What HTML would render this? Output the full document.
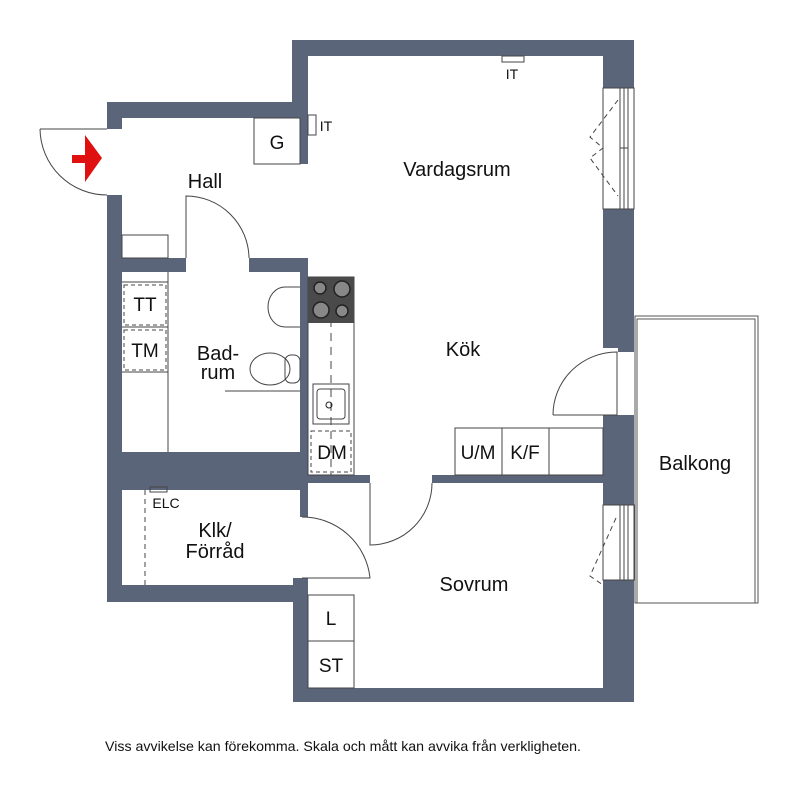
<!DOCTYPE html>
<html><head><meta charset="utf-8"><style>
html,body{margin:0;padding:0;background:#fff;}
svg{display:block;font-family:"Liberation Sans",sans-serif;}
</style></head><body>
<svg width="800" height="795" viewBox="0 0 800 795" xmlns="http://www.w3.org/2000/svg">
<rect width="800" height="795" fill="#fff"/>
<rect x="635" y="316" width="123" height="287" fill="none" stroke="#555" stroke-width="1"/>
<rect x="637" y="319" width="118" height="284" fill="none" stroke="#555" stroke-width="1"/>
<g fill="#5b6579">
<rect x="292" y="40" width="342" height="16"/>
<rect x="292" y="40" width="16" height="78"/>
<rect x="107" y="102" width="201" height="16"/>
<rect x="300" y="102" width="8" height="62"/>
<rect x="107" y="102" width="15" height="27"/>
<rect x="107" y="195" width="15" height="407"/>
<rect x="107" y="258" width="79" height="14"/>
<rect x="249" y="258" width="59" height="14"/>
<rect x="300" y="258" width="8" height="225"/>
<rect x="107" y="452" width="201" height="38"/>
<rect x="300" y="475" width="70" height="8"/>
<rect x="432" y="475" width="171" height="8"/>
<rect x="300" y="483" width="8" height="34"/>
<rect x="293" y="578" width="15" height="124"/>
<rect x="107" y="585" width="201" height="17"/>
<rect x="293" y="688" width="341" height="14"/>
<rect x="603" y="40" width="31" height="48"/>
<rect x="603" y="209" width="31" height="139"/>
<rect x="618" y="348" width="16" height="4"/>
<rect x="618" y="415" width="16" height="4"/>
<rect x="603" y="419" width="31" height="86"/>
<rect x="603" y="580" width="31" height="122"/>
<rect x="603" y="415" width="15" height="10"/>
</g>
<g fill="none" stroke="#444" stroke-width="1">
<rect x="603" y="88" width="31" height="121"/>
<line x1="620" y1="88" x2="620" y2="209"/><line x1="624" y1="88" x2="624" y2="209"/><line x1="628" y1="88" x2="628" y2="209"/>
<line x1="620" y1="148" x2="628" y2="148"/>
<rect x="603" y="505" width="31" height="75"/>
<line x1="620" y1="505" x2="620" y2="580"/><line x1="624" y1="505" x2="624" y2="580"/><line x1="628" y1="505" x2="628" y2="580"/>
<polyline points="618,100 590,137 603,148 590,158 618,196" stroke-dasharray="5,4"/>
<polyline points="616,518 590,576 603,585" stroke-dasharray="5,4"/>
<path d="M40,129 L107,129 M40,129 A67,67 0 0 0 107,195"/>
<path d="M186,258 L186,196 A63,63 0 0 1 249,258"/>
<path d="M370,483 L370,545 A62,62 0 0 0 432,483"/>
<path d="M302,517 A68,68 0 0 1 370,578 L302,578"/>
<path d="M553,415 L617,415 L617,352 A64,63 0 0 0 553,415"/>
<rect x="254" y="118" width="46" height="46"/>
<rect x="308" y="115" width="8" height="20"/>
<rect x="502" y="56" width="22" height="6"/>
<rect x="122" y="235" width="46" height="23"/>
<line x1="168" y1="272" x2="168" y2="452"/>
<line x1="122" y1="282" x2="168" y2="282"/>
<line x1="122" y1="327" x2="168" y2="327"/>
<line x1="122" y1="372" x2="168" y2="372"/>
<rect x="124" y="285" width="42" height="40" stroke-dasharray="4,3"/>
<rect x="124" y="330" width="42" height="40" stroke-dasharray="4,3"/>
<path d="M300,287 L285,287 A17,20 0 0 0 285,327 L300,327"/>
<ellipse cx="270" cy="369" rx="20" ry="16"/>
<rect x="285" y="355" width="15" height="28" rx="6"/>
<line x1="225" y1="391" x2="300" y2="391"/>
<rect x="308" y="277" width="46" height="198"/>
<line x1="331" y1="277" x2="331" y2="475" stroke-dasharray="8,6"/>
<rect x="313" y="384" width="36" height="40"/>
<rect x="317" y="389" width="28" height="30" rx="3"/>
<rect x="311" y="431" width="40" height="41" stroke-dasharray="4,3"/>
<rect x="455" y="428" width="148" height="47"/>
<line x1="502" y1="428" x2="502" y2="475"/><line x1="549" y1="428" x2="549" y2="475"/>
<rect x="150" y="487" width="17" height="5"/>
<line x1="145" y1="490" x2="145" y2="585" stroke-dasharray="5,4"/>
<rect x="308" y="595" width="46" height="93"/>
<line x1="308" y1="641" x2="354" y2="641"/>
</g>
<rect x="308" y="277" width="46" height="46" fill="#4a4a4a"/>
<g fill="#888" stroke="#222" stroke-width="1.5">
<circle cx="320" cy="288" r="6"/><circle cx="342" cy="289" r="8"/>
<circle cx="321" cy="310" r="8"/><circle cx="342" cy="311" r="6"/>
</g>
<circle cx="329" cy="405" r="3" fill="none" stroke="#222"/>
<polygon points="72,155 85,155 85,135 102,158 85,182 85,163 72,163" fill="#e01010"/>
<g fill="#111" font-size="20" text-anchor="middle">
<text x="205" y="188">Hall</text>
<text x="457" y="176">Vardagsrum</text>
<text x="463" y="356">Kök</text>
<text x="218" y="360">Bad-</text>
<text x="218" y="379">rum</text>
<text x="695" y="470">Balkong</text>
<text x="215" y="537">Klk/</text>
<text x="215" y="558">Förråd</text>
<text x="474" y="591">Sovrum</text>
<text x="277" y="149" font-size="19">G</text>
<text x="145" y="311" font-size="19">TT</text>
<text x="145" y="357" font-size="19">TM</text>
<text x="332" y="459" font-size="19">DM</text>
<text x="478" y="459" font-size="19">U/M</text>
<text x="525" y="459" font-size="19">K/F</text>
<text x="331" y="625" font-size="19">L</text>
<text x="331" y="672" font-size="19">ST</text>
<text x="512" y="79" font-size="14">IT</text>
<text x="326" y="131" font-size="14">IT</text>
<text x="166" y="508" font-size="14">ELC</text>
<text x="343" y="751" font-size="14" textLength="476" lengthAdjust="spacingAndGlyphs">Viss avvikelse kan förekomma. Skala och mått kan avvika från verkligheten.</text>
</g>
</svg>
</body></html>
